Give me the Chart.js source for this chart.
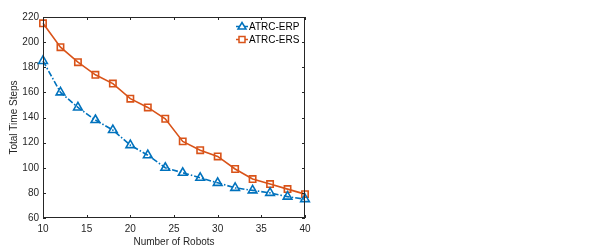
<!DOCTYPE html>
<html>
<head>
<meta charset="utf-8">
<script src="https://cdn.jsdelivr.net/npm/chart.js@4"></script>
<style>
    html, body { margin: 0; padding: 0; background: #fff; }
    #wrap { width: 600px; height: 251px; }
</style>
</head>
<body>
<div id="wrap"><canvas id="robotChart"></canvas></div>
<script>
// Data
const robots = [10, 12, 14, 16, 18, 20, 22, 24, 26, 28, 30, 32, 34, 36, 38, 40];
const erpSteps = [185, 160, 148, 138, 130, 118, 110, 100, 96, 92, 88, 84, 82, 80, 77, 75];
const ersSteps = [215, 196, 184, 174, 167, 155, 148, 139, 121, 114, 109, 99, 91, 87, 83, 79];
const seriesNames = ['ATRC-ERP', 'ATRC-ERS'];

const BLUE = '#0072BD';
const ORANGE = '#D95319';
const FONT = '"Liberation Sans", Arial, sans-serif';

// MATLAB style box with inward ticks on all four sides + legend
const boxPlugin = {
    id: 'matlabBox',
    afterDraw(chart) {
        const { ctx, chartArea: a, scales } = chart;
        ctx.save();
        ctx.strokeStyle = '#262626';
        ctx.lineWidth = 1;
        ctx.strokeRect(a.left + 0.5, a.top + 0.5, a.right - a.left - 1, a.bottom - a.top - 1);

        const len = 3;
        ctx.beginPath();
        scales.x.ticks.forEach(t => {
            const x = Math.round(scales.x.getPixelForValue(t.value)) + 0.5;
            ctx.moveTo(x, a.bottom); ctx.lineTo(x, a.bottom - len);
            ctx.moveTo(x, a.top); ctx.lineTo(x, a.top + len);
        });
        scales.y.ticks.forEach(t => {
            const y = Math.round(scales.y.getPixelForValue(t.value)) + 0.5;
            ctx.moveTo(a.left, y); ctx.lineTo(a.left + len, y);
            ctx.moveTo(a.right, y); ctx.lineTo(a.right - len, y);
        });
        ctx.stroke();

        // legend
        ctx.font = '10px ' + FONT;
        ctx.textBaseline = 'middle';
        ctx.fillStyle = '#000';
        const lx = a.right - 69;
        [[BLUE, 'triangle', [4, 1.5, 1.5, 1.5], seriesNames[0], a.top + 9.5],
         [ORANGE, 'rect', [], seriesNames[1], a.top + 22.5]].forEach(([c, shape, dash, label, y]) => {
            ctx.strokeStyle = c;
            ctx.lineWidth = 1.5;
            ctx.setLineDash(dash);
            ctx.beginPath();
            ctx.moveTo(lx, y); ctx.lineTo(lx + 12, y);
            ctx.stroke();
            ctx.setLineDash([]);
            const cx = lx + 6;
            ctx.beginPath();
            if (shape === 'triangle') {
                ctx.moveTo(cx, y - 4); ctx.lineTo(cx + 4, y + 2.5); ctx.lineTo(cx - 4, y + 2.5); ctx.closePath();
            } else {
                ctx.rect(cx - 3, y - 3, 6, 6);
            }
            ctx.fillStyle = '#fff';
            ctx.fill();
            ctx.stroke();
            ctx.fillStyle = '#000';
            ctx.fillText(label, lx + 13, y + 0.5);
        });
        ctx.restore();
    }
};

const toPoints = vals => robots.map((r, i) => ({ x: r, y: vals[i] }));

new Chart(document.getElementById('robotChart'), {
    type: 'line',
    data: {
        datasets: [{
            label: seriesNames[0],
            data: toPoints(erpSteps),
            borderColor: BLUE,
            backgroundColor: '#fff',
            borderWidth: 1.6,
            borderDash: [6, 2, 1.5, 2],
            pointStyle: 'triangle',
            pointRadius: 5,
            pointBorderWidth: 1.6,
            pointBorderColor: BLUE,
            pointBackgroundColor: 'rgba(255,255,255,0)',
            tension: 0
        }, {
            label: seriesNames[1],
            data: toPoints(ersSteps),
            borderColor: ORANGE,
            backgroundColor: '#fff',
            borderWidth: 1.6,
            pointStyle: 'rect',
            pointRadius: 4.5,
            pointBorderWidth: 1.6,
            pointBorderColor: ORANGE,
            pointBackgroundColor: 'rgba(255,255,255,0)',
            tension: 0
        }]
    },
    options: {
        responsive: true,
        maintainAspectRatio: false,
        animation: false,
        clip: false,
        layout: { padding: { top: 17, right: 295, left: 8, bottom: 3 } },
        plugins: {
            legend: { display: false },
            tooltip: { enabled: false }
        },
        scales: {
            x: {
                type: 'linear',
                min: 10,
                max: 40,
                ticks: { stepSize: 5, color: '#262626', font: { family: FONT, size: 10 }, padding: 5, maxRotation: 0 },
                grid: { display: false, drawTicks: false },
                border: { display: false },
                title: { display: true, text: 'Number of Robots', color: '#262626', font: { family: FONT, size: 10 }, padding: { top: 1, bottom: 0 } },
                afterFit(scale) { scale.height = 30; }
            },
            y: {
                min: 60,
                max: 220,
                ticks: { stepSize: 20, color: '#262626', font: { family: FONT, size: 10 }, padding: 4 },
                grid: { display: false, drawTicks: false },
                border: { display: false },
                title: { display: true, text: 'Total Time Steps', color: '#262626', font: { family: FONT, size: 10 }, padding: { top: 0, bottom: 2 } },
                afterFit(scale) { scale.width = 35; }
            }
        }
    },
    plugins: [boxPlugin]
});
</script>
</body>
</html>
